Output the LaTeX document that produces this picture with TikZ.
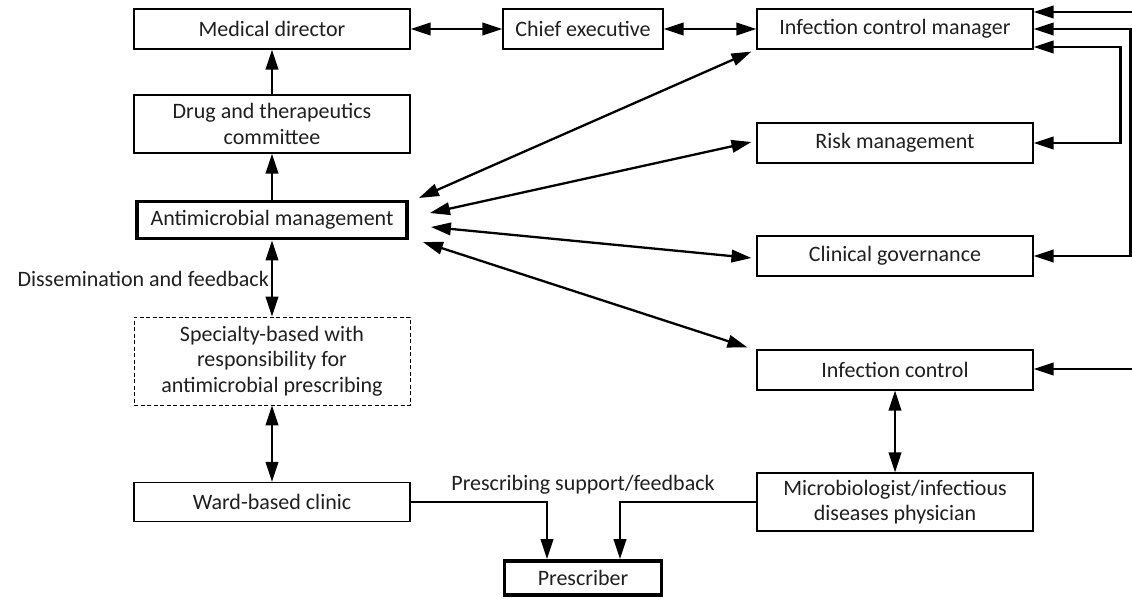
\documentclass[tikz,border=0pt]{standalone}
\usepackage{fontspec}
\setmainfont{Carlito}
\usetikzlibrary{arrows.meta}

\begin{document}
\begin{tikzpicture}[x=1pt,y=-1pt]
        \tikzstyle{box} = [rectangle, minimum width=276pt, minimum height=40pt, inner sep=2pt, align=center, draw=black, line width=1.1pt, font=\fontsize{22}{25.5}\selectfont, text=black!88];
        \tikzstyle{boxmain} = [box, line width=3.8pt, minimum width=270pt, minimum height=37pt];
        \tikzstyle{boxdash} = [box, dashed, line width=0.9pt, dash pattern=on 4pt off 2.5pt];
        \tikzstyle{arrow} = [line width=2.3pt, -{Triangle[length=20pt,width=12.5pt]}];
        \tikzstyle{dblarrow} = [line width=2.3pt, {Triangle[length=20pt,width=12.5pt]}-{Triangle[length=20pt,width=12.5pt]}];
        \tikzstyle{lbl} = [font=\fontsize{22}{25.5}\selectfont, text=black!88];

        \useasboundingbox (0,0) rectangle (1132,599);

        % left column
        \node(md) [box] at (272,29) {Medical director};
        \node(dtc) [box, minimum height=58pt, below of=md, node distance=95pt] {Drug and therapeutics\\committee};
        \node(am) [boxmain, below of=dtc, node distance=96pt] {Antimicrobial management};
        \node(spec) [boxdash, minimum height=88pt, below of=am, node distance=141pt] {Specialty-based with\\responsibility for\\antimicrobial prescribing};
        \node(ward) [box, minimum height=39pt, below of=spec, node distance=141pt] {Ward-based clinic};
        \node(presc) [boxmain, minimum width=157pt, minimum height=34pt, right of=ward, node distance=311pt, yshift=-76pt] {Prescriber};

        % top row and right column
        \node(chief) [box, minimum width=160pt, right of=md, node distance=311pt] {Chief executive};
        \node(icm) [box, right of=chief, node distance=312pt] {Infection control manager};
        \node(risk) [box, below of=icm, node distance=114pt] {Risk management};
        \node(cg) [box, below of=risk, node distance=113pt] {Clinical governance};
        \node(ic) [box, below of=cg, node distance=114pt] {Infection control};
        \node(micro) [box, minimum height=58pt, below of=ic, node distance=132pt] {Microbiologist/infectious\\diseases physician};

        \node(psf) [lbl, above of=presc, node distance=93pt] {Prescribing support/feedback};

        \coordinate (rtop) at (1132,12);
        \coordinate (ric) at (1132,369);

        \draw[dblarrow] (md) -- (chief);
        \draw[dblarrow] (chief) -- (icm);
        \draw[arrow] (dtc) -- (md);
        \draw[arrow] (am) -- (dtc);
        \draw[dblarrow] (am) -- node[lbl, left, inner sep=2pt] {Dissemination and feedback} (spec);
        \draw[dblarrow] (spec) -- (ward);

        \draw[dblarrow] ([xshift=10pt,yshift=22pt]am.east) -- ([xshift=-5pt,yshift=-2pt]icm.south west);
        \draw[dblarrow] ([xshift=21pt,yshift=7pt]am.east) -- ([xshift=-5pt,yshift=1pt]risk.west);
        \draw[dblarrow] ([xshift=22pt,yshift=-7pt]am.east) -- ([xshift=-5pt,yshift=-2pt]cg.west);
        \draw[dblarrow] ([xshift=14pt,yshift=-22pt]am.east) -- ([xshift=-9pt,yshift=2pt]ic.north west);

        \draw[arrow] (rtop) -- (rtop -| icm.east);
        \draw[dblarrow] (icm.east) -- ++(97,0) |- (cg.east);
        \draw[dblarrow] ([yshift=-18pt]icm.east) -- ++(87,0) |- (risk.east);
        \draw[arrow] (ric) -- (ric -| ic.east);
        \draw[dblarrow] (ic) -- (micro);

        \draw[arrow] (ward.east) -| ([xshift=-36pt]presc.north);
        \draw[arrow] (micro.west) -| ([xshift=37pt]presc.north);

    \end{tikzpicture}
\end{document}
